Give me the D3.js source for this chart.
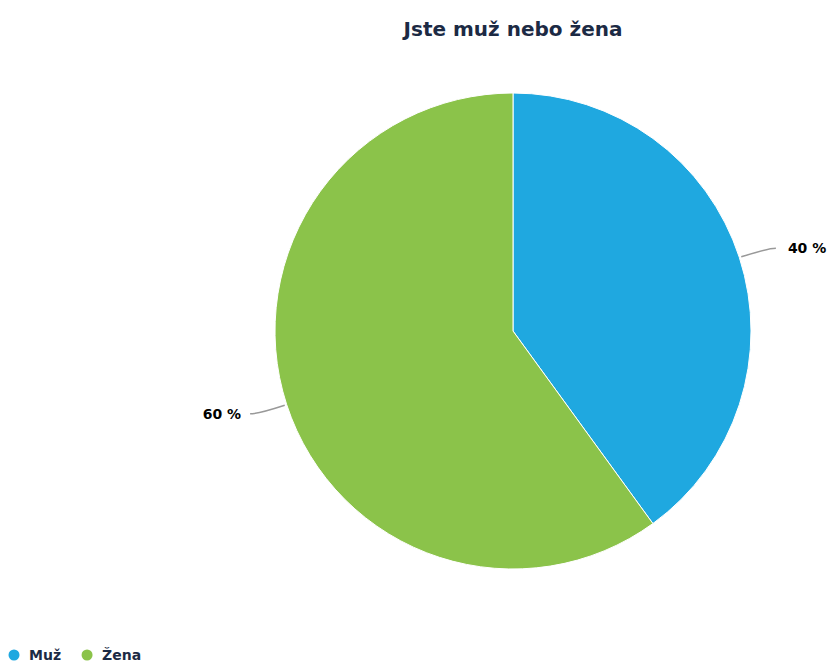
<!DOCTYPE html>
<html>
<head>
<meta charset="utf-8">
<script src="https://cdn.jsdelivr.net/npm/d3@7"></script>
<style>
  html, body { margin: 0; padding: 0; background: #ffffff; }
  svg { display: block; }
</style>
</head>
<body>
<svg id="chart" width="828" height="662"></svg>
<script>
// Survey answers: share of respondents by gender
const categories = ["Muž", "Žena"];
const values = [40, 60];
const colors = ["#1fa8e0", "#8bc34a"];
const title = "Jste muž nebo žena";

const width = 828, height = 662;
const cx = 513, cy = 331, radius = 238;

const svg = d3.select("#chart");

svg.append("text")
  .attr("x", 513)
  .attr("y", 36)
  .attr("text-anchor", "middle")
  .attr("font-family", "DejaVu Sans, sans-serif")
  .attr("font-weight", "bold")
  .attr("font-size", 20)
  .attr("fill", "#1c2a44")
  .text(title);

const data = categories.map((c, i) => ({ name: c, value: values[i], color: colors[i] }));

const pie = d3.pie().value(d => d.value).sort(null);
const arcs = pie(data);
const arc = d3.arc().innerRadius(0).outerRadius(radius);

const g = svg.append("g").attr("transform", `translate(${cx},${cy})`);

g.selectAll("path.slice")
  .data(arcs)
  .enter().append("path")
  .attr("class", "slice")
  .attr("d", arc)
  .attr("fill", d => d.data.color)
  .attr("stroke", "#ffffff")
  .attr("stroke-width", 1);

// Data labels with connector lines
const total = d3.sum(values);
arcs.forEach(a => {
  const mid = (a.startAngle + a.endAngle) / 2;
  const sx = Math.sin(mid), sy = -Math.cos(mid);
  const right = sx >= 0;
  const p0 = [sx * (radius + 2), sy * (radius + 2)];
  const p1 = [sx * (radius + 30), sy * (radius + 30)];
  const p2 = [p1[0] + (right ? 8 : -8), p1[1]];
  g.append("path")
    .attr("d", `M${p0[0]},${p0[1]} Q${p1[0]},${p1[1]} ${p2[0]},${p2[1]}`)
    .attr("fill", "none")
    .attr("stroke", "#999999")
    .attr("stroke-width", 1.5);
  g.append("text")
    .attr("x", p2[0] + (right ? 12 : -9))
    .attr("y", p2[1] + 5)
    .attr("text-anchor", right ? "start" : "end")
    .attr("font-family", "DejaVu Sans, sans-serif")
    .attr("font-weight", "bold")
    .attr("font-size", 14)
    .attr("fill", "#000000")
    .text(Math.round(a.data.value / total * 100) + " %");
});

// Legend
const legend = svg.append("g").attr("transform", "translate(0,655)");
let lx = 14;
data.forEach(d => {
  legend.append("circle")
    .attr("cx", lx)
    .attr("cy", 0)
    .attr("r", 5.5)
    .attr("fill", d.color);
  const t = legend.append("text")
    .attr("x", lx + 15)
    .attr("y", 5)
    .attr("font-family", "DejaVu Sans, sans-serif")
    .attr("font-weight", "bold")
    .attr("font-size", 14)
    .attr("fill", "#1c2a44")
    .text(d.name);
  lx += 15 + t.node().getComputedTextLength() + 26;
});
</script>
</body>
</html>
